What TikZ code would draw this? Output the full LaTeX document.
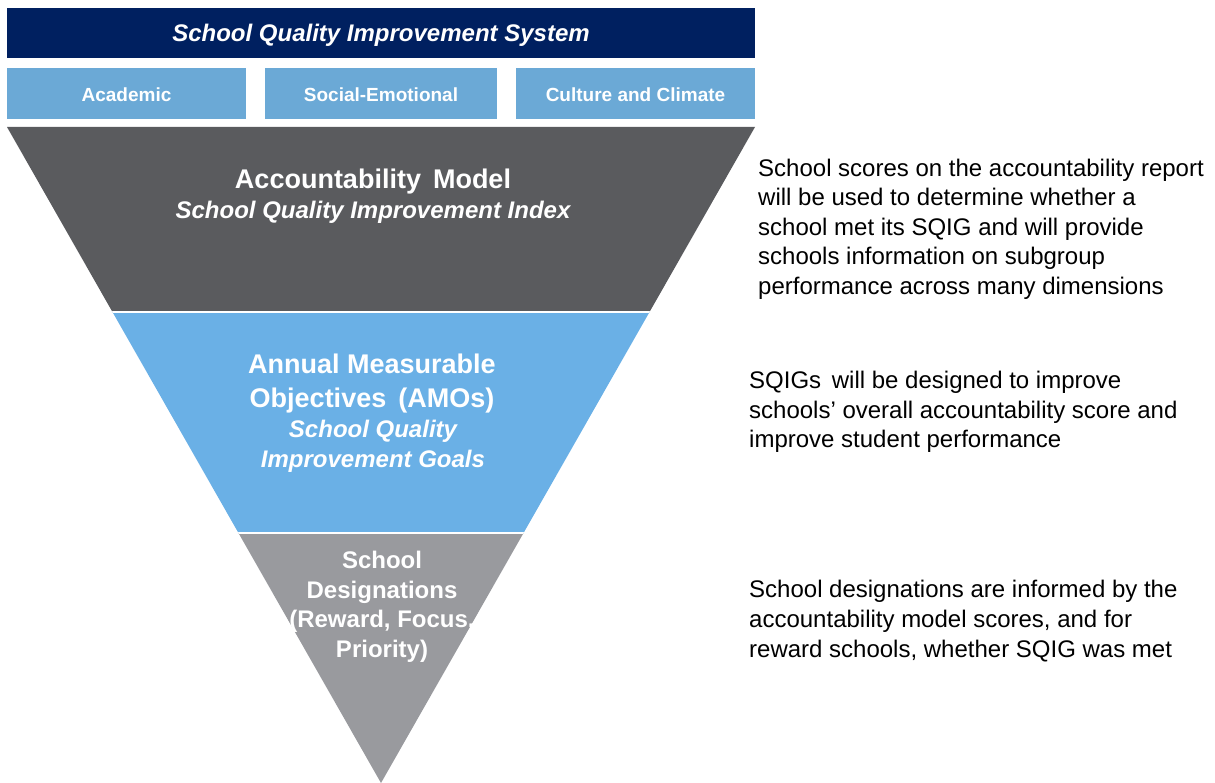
\documentclass[tikz,border=0pt]{standalone}
\usepackage{fontspec}
\setmainfont{Liberation Sans}
\definecolor{navy}{HTML}{002060}
\definecolor{boxblue}{HTML}{6BA9D6}
\definecolor{dkgray}{HTML}{5A5B5E}
\definecolor{midblue}{HTML}{6AB0E6}
\definecolor{ltgray}{HTML}{999A9E}
\begin{document}
\begin{tikzpicture}[x=1pt,y=-1pt,
  banner/.style={fill=navy,minimum width=748pt,minimum height=50pt,inner sep=0pt},
  bannertxt/.style={text=white,inner sep=0pt,font=\fontsize{24}{28}\selectfont\bfseries\itshape},
  pillar/.style={fill=boxblue,minimum height=51pt,inner sep=0pt},
  pillartxt/.style={text=white,inner sep=0pt,font=\fontsize{19}{22}\selectfont\bfseries},
  headtxt/.style={text=white,align=center,inner sep=0pt,font=\fontsize{27}{34}\selectfont\bfseries},
  subtxt/.style={text=white,align=center,inner sep=0pt,font=\fontsize{24}{30}\selectfont\bfseries\itshape},
  lowtxt/.style={text=white,align=center,inner sep=0pt,font=\fontsize{24}{29.5}\selectfont\bfseries},
  note/.style={text=black,align=left,anchor=west,inner sep=0pt,font=\fontsize{24}{29.6}\selectfont}]
\useasboundingbox (0,0) rectangle (1215,783);
\node[banner] (sys) at (381,33) {};
\node[bannertxt] (systxt) at (381,35) {School Quality Improvement System};
\node[pillar,minimum width=239pt] (acad) at (126.5,93.5) {};
\node[pillar,minimum width=232pt] (soc) at (381,93.5) {};
\node[pillar,minimum width=239pt] (cult) at (635.5,93.5) {};
\node[pillartxt] at (acad.center) [yshift=-1pt] {Academic};
\node[pillartxt] at (soc.center) [yshift=-1pt] {Social-Emotional};
\node[pillartxt] at (cult.center) [yshift=-1pt] {Culture and Climate};
\coordinate (tl) at (7,127);
\coordinate (tr) at (755,127);
\coordinate (ap) at (381,783);
\begin{scope}
\clip (tl) -- (tr) -- (ap) -- cycle;
\fill[dkgray] (0,120) rectangle (770,312);
\fill[midblue] (0,312) rectangle (770,533);
\fill[ltgray] (0,533) rectangle (770,790);
\draw[white,line width=2pt] (0,312) -- (770,312);
\draw[white,line width=2pt] (0,533) -- (770,533);
\end{scope}
\node[headtxt] (acc) at (373,182) {Accountability\, Model};
\node[subtxt] (sqii) at (373,212) {School Quality Improvement Index};
\node[headtxt] (amo) at (372,384) {Annual Measurable\\Objectives\, (AMOs)};
\node[subtxt] (sqig) at (373,446) {School Quality\\Improvement Goals};
\node[lowtxt] (desig) at (382,607) {School\\Designations\\(Reward, Focus,\\Priority)};
\node[note] (n1) at (758,229) {School scores on the accountability report\\will be used to determine whether a\\school met its SQIG and will provide\\schools information on subgroup\\performance across many dimensions};
\node[note] (n2) at (749,412) {SQIGs\, will be designed to improve\\schools’ overall accountability score and\\improve student performance};
\node[note] (n3) at (749,621) {School designations are informed by the\\accountability model scores, and for\\reward schools, whether SQIG was met};
\end{tikzpicture}
\end{document}
